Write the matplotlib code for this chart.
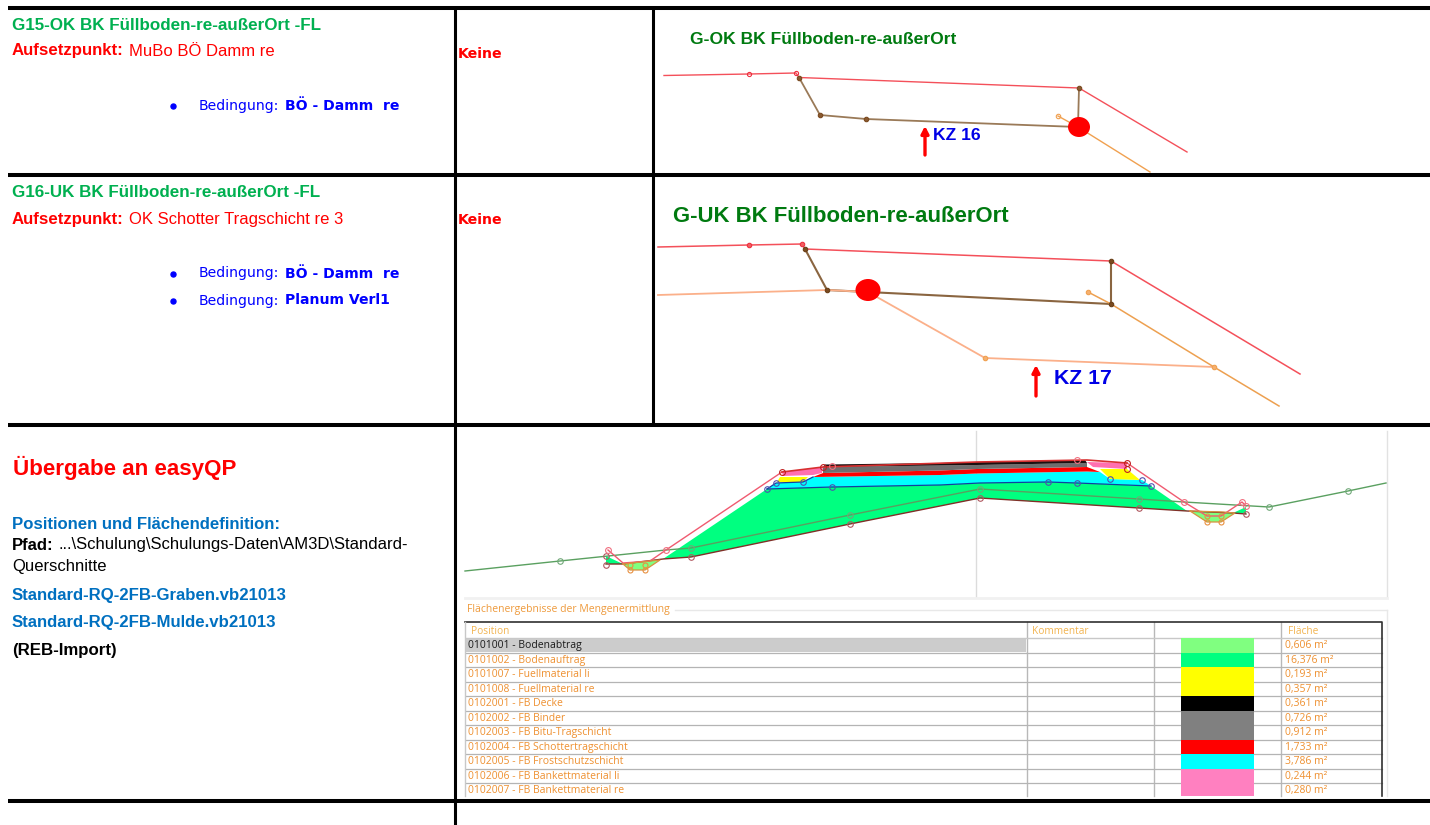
import matplotlib
matplotlib.use("Agg")
import matplotlib.pyplot as plt
from matplotlib.patches import Ellipse

ARIAL = "Liberation Sans"
VERD = "DejaVu Sans"
TABLE = "Open Sans"

# ---- data (x, y in picture pixels) ----
grid_h = [(8, 1430, 8), (8, 1430, 175), (8, 1430, 425), (8, 1430, 801)]
grid_v = [(454.5, 7, 825), (652.5, 7, 425)]

p1_red = [(664, 75.5), (749, 74), (796, 73), (799, 77.5), (1079, 88), (1187, 152)]
p1_brown = [(799, 77.5), (820, 115), (866, 119), (1078, 127), (1079, 88)]
p1_orange = [(1058, 116), (1078, 127), (1150, 172)]
p1_red_pts = [(749, 74), (796, 73)]
p1_brown_pts = [(799, 77.5), (820, 115), (866, 119), (1079, 88)]
p1_orange_pts = [(1058, 116)]
p1_dot = (1079, 127)

p2_red = [(658, 247), (749, 245), (802, 244), (805, 249), (1111, 261), (1300, 374)]
p2_brown = [(805, 249), (827, 290), (1111, 304), (1111, 261)]
p2_peach = [(658, 295), (827, 290), (868, 292), (985, 358), (1214, 367)]
p2_orange = [(1088, 292), (1111, 304), (1214, 367), (1279, 406)]
p2_red_pts = [(749, 245), (802, 244)]
p2_brown_pts = [(805, 249), (827, 290), (1111, 304), (1111, 261)]
p2_orange_pts = [(1088, 292), (985, 358), (1214, 367)]
p2_dot = (868, 290)

ground = [(465, 571), (560, 561), (666, 550), (691, 548), (850, 515), (980, 489),
          (1139, 499), (1184, 502), (1269, 507), (1348, 491), (1386, 483)]
ground_pts = [(560, 561), (691, 548), (850, 515), (980, 489), (1139, 499), (1269, 507), (1348, 491)]
subgrade = [(606, 564), (623, 564), (663, 559), (691, 557), (850, 524), (980, 498),
            (1139, 508), (1187, 511), (1233, 513), (1246, 514)]
subgrade_pts = [(691, 557), (850, 524), (980, 498), (1139, 508), (606, 556), (606, 565), (1246, 514)]
outline = [(608, 550), (623, 563), (650, 561), (666, 550), (782, 472)]
outline_r = [(1127, 463), (1184, 502), (1207, 516), (1221, 516), (1242, 502), (1246, 506)]
outline_top = [(782, 472), (823, 467), (977, 462), (1087, 460), (1127, 463)]
outline_pts = [(608, 550), (666, 550), (832, 466), (1077, 460), (1184, 502), (1242, 502), (1246, 506)]
blue_line = [(767, 489), (832, 487), (940, 485), (980, 483), (1048, 482), (1077, 483), (1151, 486)]
blue_upper = [(767, 489), (776, 483), (803, 482), (813, 477)]
blue_pts = [(767, 489), (776, 483), (803, 482), (832, 487), (1048, 482), (1077, 483), (1110, 479), (1142, 480), (1151, 486)]
ditch_pts = [(630, 570), (645, 570), (630, 565), (645, 565), (1207, 522), (1221, 522), (1207, 516), (1221, 516)]

fill_auftrag = [(767, 489), (832, 487), (940, 485), (980, 483), (1048, 482), (1077, 483), (1151, 486),
                (1187, 511), (1139, 508), (980, 498), (850, 524), (691, 557), (663, 559)]
fill_auftrag_l = [(606, 556), (606, 564), (623, 564)]
fill_auftrag_r = [(1246, 507), (1246, 514), (1233, 513)]
fill_abtrag_l = [(623, 564), (630, 570), (645, 570), (660, 560), (650, 561)]
fill_abtrag_r = [(1190, 511), (1207, 522), (1221, 522), (1235, 513), (1223, 512)]
fill_frost = [(767, 489), (776, 483), (803, 482), (813, 477), (940, 475), (977, 473.5), (1087, 471.5), (1100, 472),
              (1110, 479), (1142, 480), (1151, 486), (1077, 483), (1048, 482), (980, 483), (940, 485), (832, 487)]
fill_schotter = [(813, 477), (823, 473), (940, 470.5), (977, 469), (1087, 467), (1100, 472), (1087, 471.5),
                 (977, 473.5), (940, 475)]
fill_grau = [(823, 473), (823, 467), (940, 465.5), (977, 465), (1087, 463), (1087, 467), (977, 469), (940, 470.5)]
fill_decke = [(823, 467), (825, 464.5), (940, 463), (977, 462), (1085, 460), (1087, 463), (977, 465), (940, 465.5)]
fill_bank_l = [(782, 472), (823, 467), (822, 473), (813, 475), (783, 476)]
fill_bank_r = [(1087, 462), (1127, 463), (1127, 469), (1093, 467)]
fill_fuell_l = [(780, 477), (808, 477), (803, 482), (777, 482)]
fill_fuell_r = [(1100, 469), (1127, 469), (1140, 480), (1110, 479)]

table_positions = ["0101001 - Bodenabtrag", "0101002 - Bodenauftrag", "0101007 - Fuellmaterial li",
                   "0101008 - Fuellmaterial re", "0102001 - FB Decke", "0102002 - FB Binder",
                   "0102003 - FB Bitu-Tragschicht", "0102004 - FB Schottertragschicht",
                   "0102005 - FB Frostschutzschicht", "0102006 - FB Bankettmaterial li",
                   "0102007 - FB Bankettmaterial re"]
table_areas = ["0,606 m²", "16,376 m²", "0,193 m²", "0,357 m²", "0,361 m²", "0,726 m²",
               "0,912 m²", "1,733 m²", "3,786 m²", "0,244 m²", "0,280 m²"]
table_colors = ["#80ff80", "#00ff80", "#ffff00", "#ffff00", "#000000", "#808080",
                "#808080", "#ff0000", "#00ffff", "#ff80c0", "#ff80c0"]
table_row_tops = [638, 652.5, 667, 681.5, 696, 710.5, 725, 739.5, 754, 768.5, 783]
table_columns = [1026.5, 1154, 1281]
TABLE_END = 796

# ---- drawing ----
fig = plt.figure(figsize=(14.3, 8.25), dpi=100)
ax = fig.add_axes([0, 0, 1, 1])
ax.set_xlim(0, 1430)
ax.set_ylim(825, 0)
ax.axis("off")


def line(pts, color, lw=1.0, alpha=1.0, z=3):
    ax.plot([p[0] for p in pts], [p[1] for p in pts], color=color, lw=lw, alpha=alpha, zorder=z,
            solid_joinstyle="round")


def dots(pts, color, size=3.5, face=None, alpha=1.0, z=4, mew=0.8):
    ax.plot([p[0] for p in pts], [p[1] for p in pts], ls="none", marker="o", ms=size,
            mec=color, mfc=face if face else "none", mew=mew, alpha=alpha, zorder=z)


def poly(pts, color, z=2):
    ax.fill([p[0] for p in pts], [p[1] for p in pts], color=color, lw=0, zorder=z)


def txt(x, y, s, color="black", size=10, weight="normal", family=ARIAL):
    ax.text(x, y, s, color=color, fontsize=size, fontweight=weight, family=family,
            va="center", ha="left", zorder=6)


def blob(center, rx, ry):
    ax.add_patch(Ellipse(center, rx * 2, ry * 2, color="#ff0000", lw=0, zorder=5))


def arrow(x, y0, y1):
    ax.annotate("", xy=(x, y1), xytext=(x, y0), zorder=5,
                arrowprops=dict(arrowstyle="-|>,head_width=0.22,head_length=0.42",
                                color="#ff0000", lw=2.4, shrinkA=0, shrinkB=0))


for x0, x1, y in grid_h:
    ax.plot([x0, x1], [y, y], color="black", lw=2.9, solid_capstyle="butt", zorder=7)
for x, y0, y1 in grid_v:
    ax.plot([x, x], [y0, y1], color="black", lw=2.2, solid_capstyle="butt", zorder=7)

# left column text
G = "#00b050"
B = "#0000ff"
R = "#ff0000"
LB = "#0070c0"
txt(12, 25, "G15-OK BK Füllboden-re-außerOrt -FL", G, 12.25, "bold")
txt(12, 51, "Aufsetzpunkt:", R, 12.1, "bold")
txt(129, 51, "MuBo BÖ Damm re", R, 12.0)
txt(12, 192.5, "G16-UK BK Füllboden-re-außerOrt -FL", G, 12.25, "bold")
txt(12, 219.5, "Aufsetzpunkt:", R, 12.1, "bold")
txt(129, 219.5, "OK Schotter Tragschicht re 3", R, 12.0)

for yb, bold_s in [(106, "BÖ - Damm  re"), (273.5, "BÖ - Damm  re"), (300.5, "Planum Verl1")]:
    ax.plot([173], [yb], marker="o", ms=3.6, color=B, zorder=6)
    txt(199, yb, "Bedingung:", B, 10.1, family=VERD)
    txt(285, yb, bold_s, B, 10.05, "bold", VERD)

txt(458, 53.5, "Keine", R, 10.2, "bold", VERD)
txt(458, 220.5, "Keine", R, 10.2, "bold", VERD)

txt(13, 467.5, "Übergabe an easyQP", R, 16.1, "bold")
txt(12, 524.5, "Positionen und Flächendefinition:", LB, 12.1, "bold")
txt(12, 545, "Pfad:", "black", 12, "bold")
txt(59, 545, "...\\Schulung\\Schulungs-Daten\\AM3D\\Standard-", "black", 12)
txt(12, 566, "Querschnitte", "black", 12)
txt(12, 595.5, "Standard-RQ-2FB-Graben.vb21013", LB, 12.1, "bold")
txt(12, 622.5, "Standard-RQ-2FB-Mulde.vb21013", LB, 12.1, "bold")
txt(12, 650.5, "(REB-Import)", "black", 12.2, "bold")

# panel 1
DG = "#007a10"
txt(690, 40, "G-OK BK Füllboden-re-außerOrt", DG, 12.6, "bold", ARIAL)
line(p1_red, "#f4505a", 1.0)
line(p1_brown, "#9a7a58", 1.3)
line(p1_orange, "#f0a050", 1.0)
dots(p1_red_pts, "#ee3040", 3)
dots(p1_brown_pts, "#7a4a20", 3.2, "#8a5a30")
dots(p1_orange_pts, "#f0a050", 3.2)
blob(p1_dot, 11, 10)
arrow(925, 155, 126)
txt(933, 136, "KZ 16", "#0000e6", 12.6, "bold")

# panel 2
txt(673, 216.5, "G-UK BK Füllboden-re-außerOrt", DG, 15.9, "bold")
line(p2_red, "#f4505a", 1.1)
line(p2_brown, "#8a6540", 1.5)
line(p2_peach, "#fbb08a", 1.3)
line(p2_orange, "#eda050", 1.1)
dots(p2_red_pts, "#ee3040", 3.2, "#f06060")
dots(p2_brown_pts, "#6a4018", 3.2, "#7a4a20")
dots(p2_orange_pts, "#f0a050", 3.2, "#f5b070")
blob(p2_dot, 12.5, 11)
arrow(1036, 396, 365)
txt(1054, 378, "KZ 17", "#0000e6", 15.3, "bold")

# cross-section frame
ax.plot([976, 976], [431, 597], color="#dcdcdc", lw=1.0, zorder=1)
ax.plot([1387, 1387], [431, 597], color="#e2e2e2", lw=1.0, zorder=1)
ax.plot([465, 1387], [598, 598], color="#f1f1f1", lw=2, zorder=1)

for pts, c in [(fill_auftrag, "#00ff80"), (fill_auftrag_l, "#00ff80"), (fill_auftrag_r, "#00ff80"),
               (fill_abtrag_l, "#80ff80"), (fill_abtrag_r, "#80ff80"), (fill_frost, "#00ffff"),
               (fill_schotter, "#ff0000"), (fill_grau, "#6e6e6e"), (fill_decke, "#1a1010"),
               (fill_bank_l, "#ff70b0"), (fill_bank_r, "#ff70b0"), (fill_fuell_l, "#ffff00"),
               (fill_fuell_r, "#ffff00")]:
    poly(pts, c)

line(ground, "#5aa060", 1.0)
line(subgrade, "#803028", 1.0)
line(blue_line, "#1040a0", 0.9)
line(blue_upper, "#1040a0", 0.9)
line(outline, "#f05a70", 1.0)
line(outline_r, "#f05a70", 1.0)
line(outline_top, "#d83030", 1.2)
line(fill_abtrag_l + fill_abtrag_l[:1], "#d89040", 0.9)
line(fill_abtrag_r + fill_abtrag_r[:1], "#d89040", 0.9)
dots(ground_pts, "#70a878", 4)
dots(subgrade_pts, "#b05860", 4)
dots(blue_pts, "#5050b0", 4)
dots(outline_pts, "#f07080", 4.2)
dots(ditch_pts, "#e89040", 3.6)
dots([fill_bank_l[0], fill_bank_l[1], fill_bank_r[1], fill_bank_r[2]], "#c02020", 4.2)

# table
txt(467, 609.5, "Flächenergebnisse der Mengenermittlung", "#ee9a3c", 7.5, family=TABLE)
ax.plot([675, 1387], [609.5, 609.5], color="#e8e8e8", lw=1, zorder=1)
ax.plot([1387, 1387], [609.5, TABLE_END], color="#e8e8e8", lw=1, zorder=1)
ax.plot([465, 1382, 1382], [622, 622, TABLE_END], color="#303030", lw=1.2, zorder=4)
ax.plot([465, 465], [622, TABLE_END], color="#c8c8c8", lw=1, zorder=4)
for xc in table_columns:
    ax.plot([xc, xc], [622, TABLE_END], color="#b8b8b8", lw=1, zorder=3)
ax.plot([466, 1382], [638, 638], color="#c8c8c8", lw=1, zorder=3)
txt(471, 631, "Position", "#f2b450", 7.3, family=TABLE)
txt(1032, 631, "Kommentar", "#f2b450", 7.3, family=TABLE)
txt(1288, 631, "Fläche", "#f2b450", 7.3, family=TABLE)

ax.fill([466, 1026, 1026, 466], [638, 638, 652, 652], color="#cccccc", lw=0, zorder=1)
for i, (pos, area, col, top) in enumerate(zip(table_positions, table_areas, table_colors, table_row_tops)):
    bottom = min(top + 14.5, TABLE_END)
    if bottom < TABLE_END:
        ax.plot([466, 1382], [bottom, bottom], color="#b4b4b4", lw=0.9, zorder=3)
    ax.fill([1181, 1254, 1254, 1181], [top, top, bottom, bottom], color=col, lw=0, zorder=3.5)
    c = "#1a1a1a" if i == 0 else "#ee9030"
    txt(468, top + 7.8, pos, c, 7.5, family=TABLE)
    txt(1285, top + 7.8, area, "#ee9030", 7.5, family=TABLE)

fig.savefig("out.png", dpi=100, facecolor="white")
